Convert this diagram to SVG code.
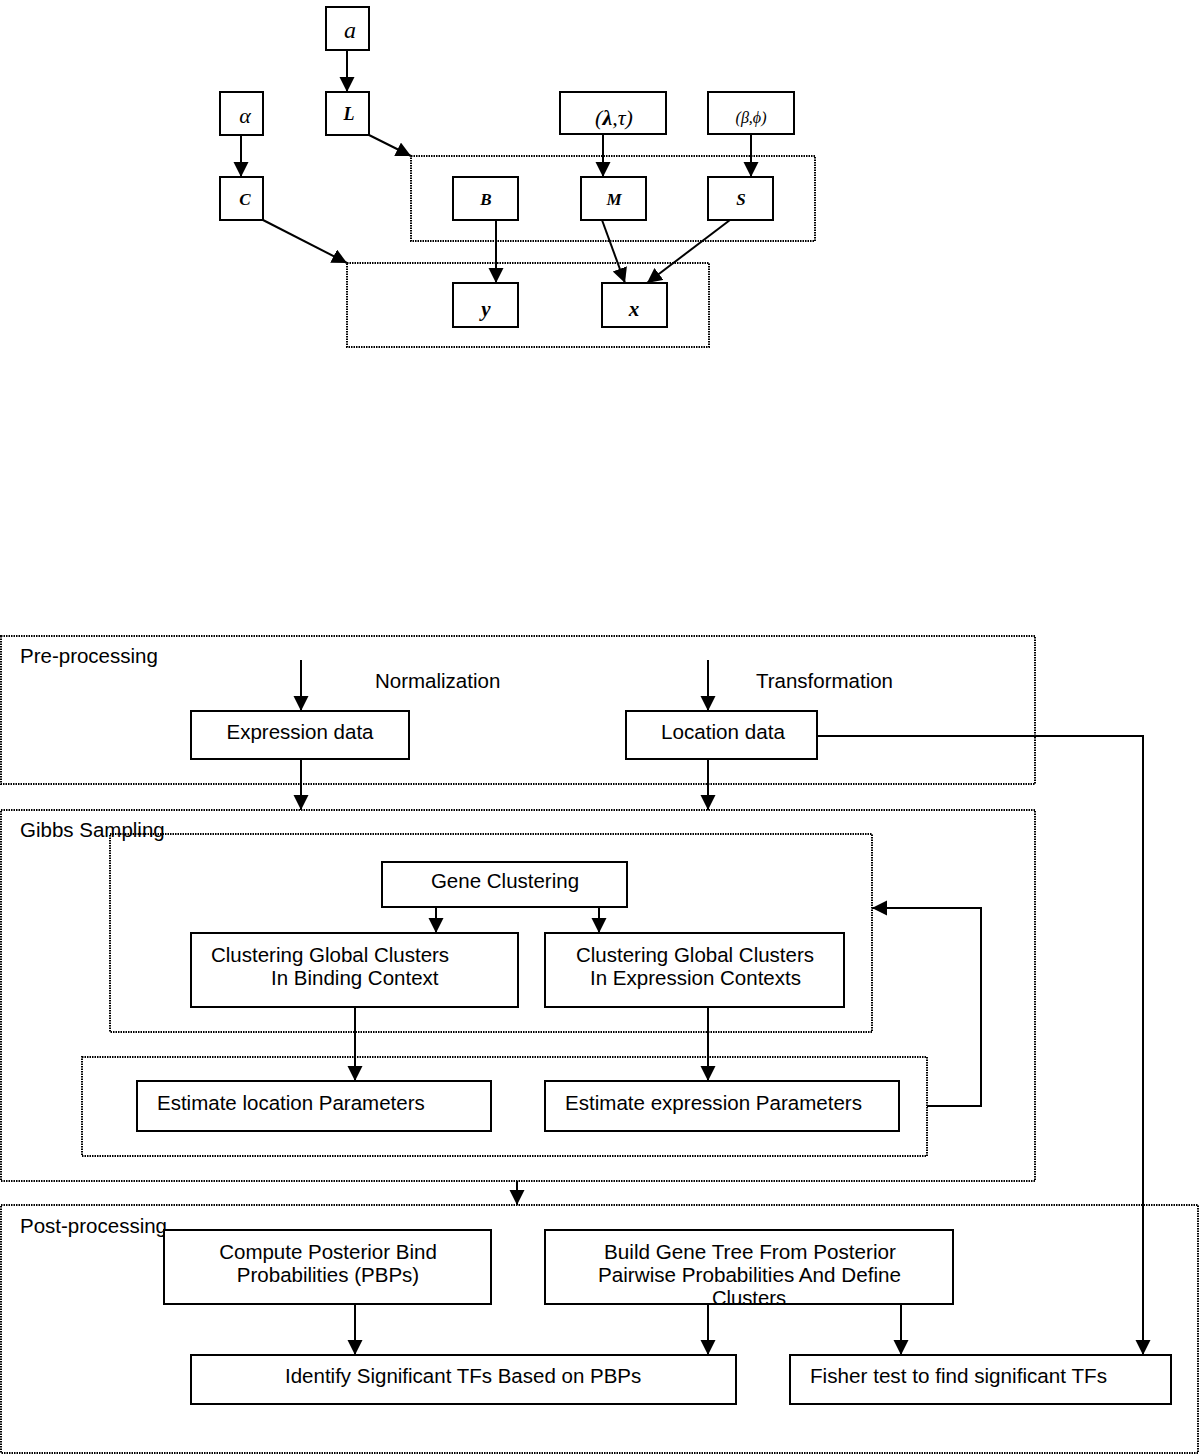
<svg xmlns="http://www.w3.org/2000/svg" width="1200" height="1455" viewBox="0 0 1200 1455">
<style>
.box{fill:#fff;stroke:#000;stroke-width:2}
.dot{fill:none;stroke:#000;stroke-width:2;stroke-dasharray:1.5 1}
.ln{fill:none;stroke:#000;stroke-width:2}
.ti{font-family:"Liberation Serif",serif;font-style:italic;fill:#000}
.tb{font-family:"Liberation Serif",serif;font-style:italic;font-weight:bold;fill:#000}
.sa{font-family:"Liberation Sans",Arial,sans-serif;font-size:20.5px;fill:#000}
</style>
<defs>
<marker id="ah" markerUnits="userSpaceOnUse" markerWidth="16" markerHeight="16" refX="15" refY="7.5" orient="auto">
<path d="M0,0 L15,7.5 L0,15 z" fill="#000"/>
</marker>
</defs>
<rect width="1200" height="1455" fill="#fff"/>

<!-- Top plate diagram -->
<g id="plate1"><rect class="dot" x="411" y="156" width="404" height="85"/></g>
<g id="plate2"><rect class="dot" x="347" y="263" width="362" height="84"/></g>

<g id="n_a"><rect class="box" x="326" y="7" width="43" height="43"/><text class="ti" x="350" y="38" font-size="24" text-anchor="middle">a</text></g>
<g id="n_L"><rect class="box" x="326" y="92" width="43" height="43"/><text class="tb" x="349" y="120" font-size="18" text-anchor="middle">L</text></g>
<g id="n_alpha"><rect class="box" x="220" y="92" width="43" height="43"/><text class="ti" x="245" y="123" font-size="22" text-anchor="middle">α</text></g>
<g id="n_C"><rect class="box" x="220" y="177" width="43" height="43"/><text class="tb" x="245" y="205" font-size="17" text-anchor="middle">C</text></g>
<g id="n_lt"><rect class="box" x="560" y="92" width="106" height="42"/><text class="ti" x="614" y="125" font-size="22" text-anchor="middle">(<tspan font-weight="bold">λ</tspan>,τ)</text></g>
<g id="n_bp"><rect class="box" x="708" y="92" width="86" height="42"/><text class="ti" x="751" y="123" font-size="16" text-anchor="middle">(β,ϕ)</text></g>
<g id="n_B"><rect class="box" x="453" y="177" width="65" height="43"/><text class="tb" x="486" y="205" font-size="17" text-anchor="middle">B</text></g>
<g id="n_M"><rect class="box" x="581" y="177" width="65" height="43"/><text class="tb" x="614" y="205" font-size="17" text-anchor="middle">M</text></g>
<g id="n_S"><rect class="box" x="708" y="177" width="65" height="43"/><text class="tb" x="741" y="205" font-size="17" text-anchor="middle">S</text></g>
<g id="n_y"><rect class="box" x="453" y="283" width="65" height="44"/><text class="tb" x="486" y="316" font-size="21" text-anchor="middle">y</text></g>
<g id="n_x"><rect class="box" x="602" y="283" width="65" height="44"/><text class="tb" x="634" y="316" font-size="21" text-anchor="middle">x</text></g>

<!-- Bottom flow containers -->
<g id="pre"><rect class="dot" x="1" y="636" width="1034" height="148"/><text class="sa" x="20" y="663">Pre-processing</text></g>
<g id="gibbs"><rect class="dot" x="1" y="810" width="1034" height="371"/><text class="sa" x="20" y="837">Gibbs Sampling</text></g>
<g id="inner1"><rect class="dot" x="110" y="834" width="762" height="198"/></g>
<g id="inner2"><rect class="dot" x="82" y="1057" width="845" height="99"/></g>
<g id="post"><rect class="dot" x="1" y="1205" width="1197" height="248"/><text class="sa" x="20" y="1233">Post-processing</text></g>

<g id="lbl_norm"><text class="sa" x="375" y="688">Normalization</text></g>
<g id="lbl_trans"><text class="sa" x="756" y="688" textLength="137" lengthAdjust="spacingAndGlyphs">Transformation</text></g>

<g id="expr"><rect class="box" x="191" y="711" width="218" height="48"/><text class="sa" x="300" y="739" text-anchor="middle">Expression data</text></g>
<g id="loc"><rect class="box" x="626" y="711" width="191" height="48"/><text class="sa" x="661" y="739" textLength="124" lengthAdjust="spacingAndGlyphs">Location data</text></g>
<g id="gene"><rect class="box" x="382" y="862" width="245" height="45"/><text class="sa" x="505" y="888" text-anchor="middle">Gene Clustering</text></g>
<g id="cgb"><rect class="box" x="191" y="933" width="327" height="74"/><text class="sa" x="211" y="962">Clustering Global Clusters</text><text class="sa" x="271" y="985">In Binding Context</text></g>
<g id="cge"><rect class="box" x="545" y="933" width="299" height="74"/><text class="sa" x="576" y="962" textLength="238" lengthAdjust="spacingAndGlyphs">Clustering Global Clusters</text><text class="sa" x="590" y="985" textLength="211" lengthAdjust="spacingAndGlyphs">In Expression Contexts</text></g>
<g id="elp"><rect class="box" x="137" y="1081" width="354" height="50"/><text class="sa" x="157" y="1110">Estimate location Parameters</text></g>
<g id="eep"><rect class="box" x="545" y="1081" width="354" height="50"/><text class="sa" x="565" y="1110" textLength="297" lengthAdjust="spacingAndGlyphs">Estimate expression Parameters</text></g>
<g id="cpb"><rect class="box" x="164" y="1230" width="327" height="74"/><text class="sa" x="328" y="1259" text-anchor="middle">Compute Posterior Bind</text><text class="sa" x="328" y="1282" text-anchor="middle">Probabilities (PBPs)</text></g>
<g id="bgt"><rect class="box" x="545" y="1230" width="408" height="74"/><text class="sa" x="604" y="1259" textLength="292" lengthAdjust="spacingAndGlyphs">Build Gene Tree From Posterior</text><text class="sa" x="598" y="1282" textLength="303" lengthAdjust="spacingAndGlyphs">Pairwise Probabilities And Define</text><text class="sa" x="712" y="1305" textLength="74" lengthAdjust="spacingAndGlyphs">Clusters</text></g>
<g id="ist"><rect class="box" x="191" y="1355" width="545" height="49"/><text class="sa" x="285" y="1383">Identify Significant TFs Based on PBPs</text></g>
<g id="fis"><rect class="box" x="790" y="1355" width="381" height="49"/><text class="sa" x="810" y="1383" textLength="297" lengthAdjust="spacingAndGlyphs">Fisher test to find significant TFs</text></g>

<!-- Connectors -->
<g id="connectors">
<line class="ln" x1="347" y1="50" x2="347" y2="92" marker-end="url(#ah)"/>
<line class="ln" x1="241" y1="135" x2="241" y2="177" marker-end="url(#ah)"/>
<line class="ln" x1="369" y1="135" x2="411" y2="156" marker-end="url(#ah)"/>
<line class="ln" x1="263" y1="220" x2="347" y2="263" marker-end="url(#ah)"/>
<line class="ln" x1="603" y1="134" x2="603" y2="177" marker-end="url(#ah)"/>
<line class="ln" x1="751" y1="134" x2="751" y2="177" marker-end="url(#ah)"/>
<line class="ln" x1="496" y1="220" x2="496" y2="283" marker-end="url(#ah)"/>
<line class="ln" x1="602" y1="220" x2="625" y2="283" marker-end="url(#ah)"/>
<line class="ln" x1="730" y1="220" x2="647" y2="283" marker-end="url(#ah)"/>

<line class="ln" x1="301" y1="660" x2="301" y2="711" marker-end="url(#ah)"/>
<line class="ln" x1="708" y1="660" x2="708" y2="711" marker-end="url(#ah)"/>
<line class="ln" x1="301" y1="759" x2="301" y2="810" marker-end="url(#ah)"/>
<line class="ln" x1="708" y1="759" x2="708" y2="810" marker-end="url(#ah)"/>
<polyline class="ln" points="817,736 1143,736 1143,1355" marker-end="url(#ah)"/>
<line class="ln" x1="436" y1="907" x2="436" y2="933" marker-end="url(#ah)"/>
<line class="ln" x1="599" y1="907" x2="599" y2="933" marker-end="url(#ah)"/>
<line class="ln" x1="355" y1="1007" x2="355" y2="1081" marker-end="url(#ah)"/>
<line class="ln" x1="708" y1="1007" x2="708" y2="1081" marker-end="url(#ah)"/>
<polyline class="ln" points="927,1106 981,1106 981,908 872,908" marker-end="url(#ah)"/>
<line class="ln" x1="517" y1="1181" x2="517" y2="1205" marker-end="url(#ah)"/>
<line class="ln" x1="355" y1="1304" x2="355" y2="1355" marker-end="url(#ah)"/>
<line class="ln" x1="708" y1="1304" x2="708" y2="1355" marker-end="url(#ah)"/>
<line class="ln" x1="901" y1="1304" x2="901" y2="1355" marker-end="url(#ah)"/>
</g>
</svg>
